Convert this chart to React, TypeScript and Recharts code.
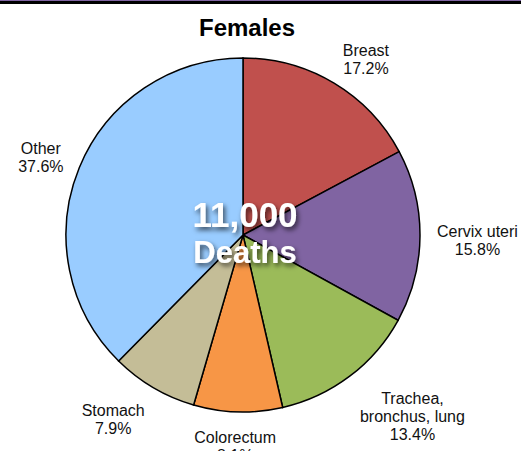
import React from "react";
import { PieChart, Pie, Cell } from "recharts";

const categories = [
  "Breast",
  "Cervix uteri",
  "Trachea,\nbronchus, lung",
  "Colorectum",
  "Stomach",
  "Other",
];
const shares = [17.2, 15.8, 13.4, 8.1, 7.9, 37.6];
const colors = ["#C0504D", "#8064A2", "#9BBB59", "#F79646", "#C4BD97", "#99CCFF"];

const totalLabel = "11,000";
const unitLabel = "Deaths";

const data = categories.map((name, i) => ({ name, value: shares[i] }));

const RAD = Math.PI / 180;
const FS = 16;
const LH = 18;
const FONT = "'Liberation Sans', Arial, sans-serif";

let ctx: CanvasRenderingContext2D | null = null;
const measure = (s: string) => {
  if (!ctx) ctx = document.createElement("canvas").getContext("2d");
  if (!ctx) return s.length * FS * 0.5;
  ctx.font = `${FS}px ${FONT}`;
  return ctx.measureText(s).width;
};

const clamp = (v: number) => Math.max(-1, Math.min(1, v));

// label box placed just outside the rim, pushed out by its own half-size
const renderLabel = (props: any) => {
  const { cx, cy, midAngle, outerRadius, name, value } = props;
  const lines = [...String(name).split("\n"), `${Number(value).toFixed(1)}%`];
  const w = Math.max(...lines.map(measure));
  const h = (lines.length - 1) * LH + FS;
  const cos = Math.cos(-midAngle * RAD);
  const sin = Math.sin(-midAngle * RAD);
  const x = cx + (outerRadius + 17) * cos + (w / 2) * clamp(cos * 2);
  const y = cy + (outerRadius + 13) * sin + (h / 2) * clamp(sin * 1.5);
  const y0 = y - ((lines.length - 1) * LH) / 2 + FS * 0.6;
  return (
    <text x={x} y={y0} textAnchor="middle" fontSize={FS} fill="#111" fontFamily={FONT}>
      {lines.map((l, i) => (
        <tspan key={i} x={x} y={y0 + i * LH}>
          {l}
        </tspan>
      ))}
    </text>
  );
};

export default function App() {
  return (
    <div
      style={{
        position: "absolute",
        left: 0,
        top: 0,
        width: 521,
        height: 451,
        background: "#fff",
        overflow: "hidden",
      }}
    >
      <div style={{ position: "absolute", left: 0, top: 0, width: 521, height: 1, background: "#8064A2" }} />
      <div style={{ position: "absolute", left: 0, top: 1, width: 521, height: 3, background: "#000" }} />
      <PieChart
        width={521}
        height={451}
        margin={{ top: 0, right: 0, bottom: 0, left: 0 }}
        style={{ fontFamily: FONT }}
      >
        <text x={247} y={36} textAnchor="middle" fontSize={24} fontWeight="bold" fill="#000">
          Females
        </text>
        <Pie
          data={data}
          dataKey="value"
          nameKey="name"
          cx={243}
          cy={235}
          outerRadius={177}
          startAngle={90}
          endAngle={-270}
          stroke="#000"
          strokeWidth={1.5}
          label={renderLabel}
          labelLine={false}
          isAnimationActive={false}
        >
          {data.map((d, i) => (
            <Cell key={d.name} fill={colors[i]} />
          ))}
        </Pie>
      </PieChart>
      <svg
        width={521}
        height={451}
        style={{ position: "absolute", left: 0, top: 0, pointerEvents: "none" }}
      >
        <defs>
          <filter id="txtShadow" x="-20%" y="-30%" width="140%" height="170%">
            <feDropShadow dx="2" dy="3" stdDeviation="2.5" floodColor="#000" floodOpacity="0.65" />
          </filter>
        </defs>
        <g filter="url(#txtShadow)" fill="#fff" fontWeight="bold" textAnchor="middle" fontFamily={FONT}>
          <text x={245} y={227} fontSize={35}>
            {totalLabel}
          </text>
          <text x={245} y={263} fontSize={31}>
            {unitLabel}
          </text>
        </g>
      </svg>
    </div>
  );
}
